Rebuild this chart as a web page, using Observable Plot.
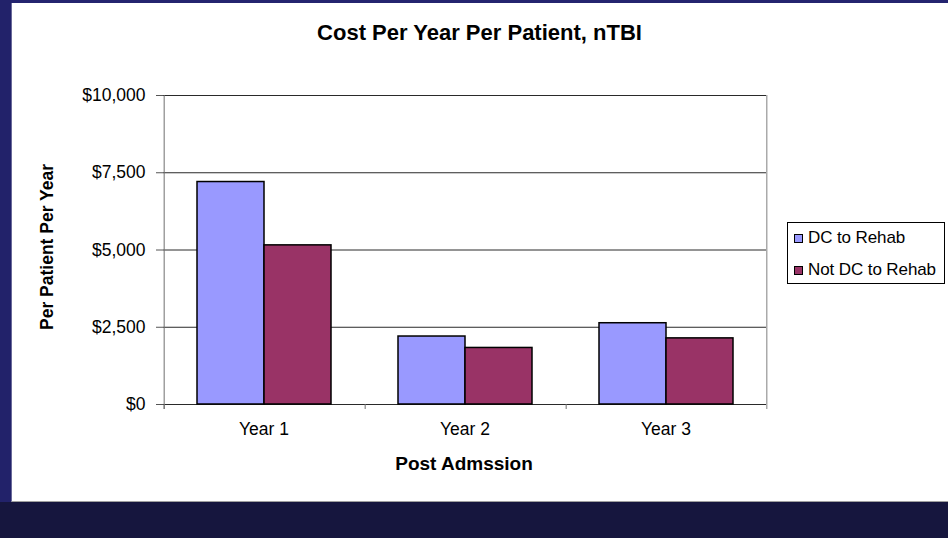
<!DOCTYPE html>
<html>
<head>
<meta charset="utf-8">
<script src="https://cdn.jsdelivr.net/npm/d3@7"></script>
<script src="https://cdn.jsdelivr.net/npm/@observablehq/plot@0.6"></script>
<style>
  html, body { margin: 0; padding: 0; }
  body { width: 948px; height: 538px; position: relative; overflow: hidden; background: #16163e; font-family: "Liberation Sans", Arial, sans-serif; }
  #topbar { position: absolute; left: 0; top: 0; width: 948px; height: 3px; background: #24246f; }
  #leftbar { position: absolute; left: 0; top: 0; width: 11px; height: 502px; background: #22226a; }
  #panel { position: absolute; left: 11px; top: 3px; width: 937px; height: 498px; background: #fff; border-bottom: 1px solid #a0a0a0; border-left: 1px solid #6a6a9a; box-sizing: content-box; }
  #chart { position: absolute; left: 11px; top: 3px; }
  .title { position: absolute; left: 11px; width: 937px; text-align: center; font-weight: bold; color: #000; white-space: nowrap; }
  #ytitle { position: absolute; left: 47px; top: 247px; transform: translate(-50%, -50%) rotate(-90deg); font-weight: bold; font-size: 17.5px; white-space: nowrap; }
  #legend { position: absolute; left: 787px; top: 222px; width: 156px; height: 60px; border: 1px solid #000; background: #fff; }
  .item { position: absolute; left: 6px; height: 20px; display: flex; align-items: center; font-size: 17px; white-space: nowrap; letter-spacing: -0.1px; }
  .sw { width: 7px; height: 7px; border: 1px solid #000; margin-right: 5px; }
</style>
</head>
<body>
<div id="topbar"></div>
<div id="leftbar"></div>
<div id="panel"></div>
<div id="chart"></div>
<div class="title" id="title" style="top:20px;font-size:22px;">Cost Per Year Per Patient, nTBI</div>
<div class="title" id="xtitle" style="left:0;width:928px;top:453px;font-size:19px;">Post Admssion</div>
<div id="ytitle">Per Patient Per Year</div>
<div id="legend"></div>
<script>
// ---- data ----
const years = ["Year 1", "Year 2", "Year 3"];
const seriesNames = ["DC to Rehab", "Not DC to Rehab"];
const dcToRehab = [7200, 2200, 2630];
const notDcToRehab = [5150, 1830, 2140];
const yTicks = [0, 2500, 5000, 7500, 10000];
const seriesColors = ["#9999FF", "#993366"];

const rows = years.flatMap((yr, i) => [
  {year: yr, series: seriesNames[0], value: dcToRehab[i]},
  {year: yr, series: seriesNames[1], value: notDcToRehab[i]}
]);

// ---- layout ----
const W = 937, H = 499;
const mL = 151, mR = 181, mT = 92, mB = 98;
const facetW = (W - mL - mR) / years.length;
const po = 0.483; // outer padding of the series band inside each year
const bw = facetW / (2 + 2 * po);
const edge = facetW / 2 - bw / 2; // offset from first bar's center to the facet edge
const tickExt = 5 * 10000 / (H - mT - mB); // 5px below the baseline, in data units

const chart = Plot.plot({
  width: W,
  height: H,
  marginLeft: mL,
  marginRight: mR,
  marginTop: mT,
  marginBottom: mB,
  style: {fontFamily: "'Liberation Sans', Arial, sans-serif", fontSize: "17.5px", color: "#000", background: "transparent", overflow: "visible"},
  fx: {domain: years, paddingInner: 0, paddingOuter: 0, axis: null, label: null},
  x: {domain: seriesNames, paddingInner: 0, paddingOuter: po, axis: null},
  y: {domain: [0, 10000], axis: null},
  color: {domain: seriesNames, range: seriesColors},
  marks: [
    Plot.gridY(yTicks, {stroke: "#2a2a2a", strokeOpacity: 1}),
    Plot.barY(rows, {fx: "year", x: "series", y: "value", fill: "series", stroke: "#000", strokeWidth: 1.5}),
    // category boundary ticks below the baseline
    Plot.ruleX(years, {fx: d => d, x: () => seriesNames[0], dx: -edge, y1: -tickExt, y2: 0, stroke: "#707070"}),
    // left axis line
    Plot.ruleX([years[0]], {fx: d => d, x: () => seriesNames[0], dx: -edge, y1: -tickExt, y2: 10000, stroke: "#707070"}),
    // right plot-area border
    Plot.ruleX([years[years.length - 1]], {fx: d => d, x: () => seriesNames[1], dx: edge, y1: -tickExt, y2: 10000, stroke: "#808080"}),
    Plot.axisY(yTicks, {anchor: "left", tickFormat: d3.format("$,"), tickSize: 7, tickPadding: 11, stroke: "#555", label: null}),
    Plot.axisFx({anchor: "bottom", tickSize: 0, tickPadding: 18, label: null})
  ]
});
document.getElementById("chart").appendChild(chart);

// ---- legend ----
const legend = document.getElementById("legend");
seriesNames.forEach((name, i) => {
  const item = document.createElement("div");
  item.className = "item";
  item.style.top = (5 + i * 32) + "px";
  const sw = document.createElement("div");
  sw.className = "sw";
  sw.style.background = seriesColors[i];
  const label = document.createElement("span");
  label.textContent = name;
  item.appendChild(sw);
  item.appendChild(label);
  legend.appendChild(item);
});
</script>
</body>
</html>
